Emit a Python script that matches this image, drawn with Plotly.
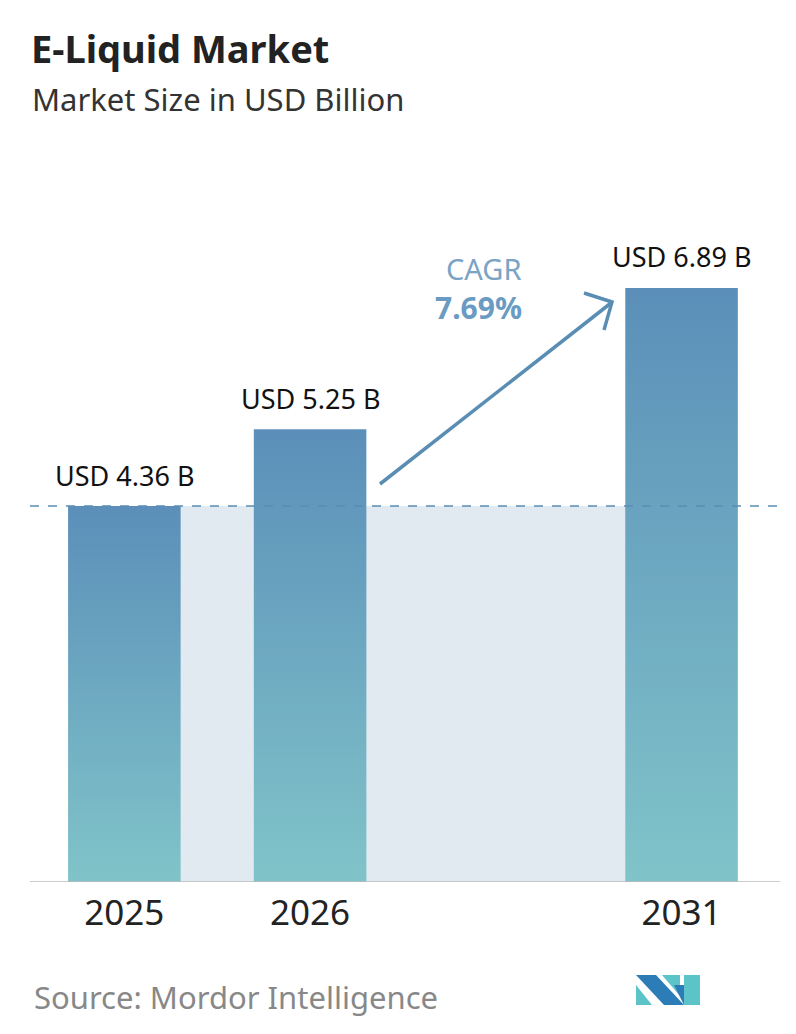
import plotly.graph_objects as go

years = ["2025", "2026", "2031"]
positions = [0, 1, 3]
values = [4.36, 5.25, 6.89]
labels = ["USD 4.36 B", "USD 5.25 B", "USD 6.89 B"]
cagr = "7.69%"

O = 8  # page offset
W, H = 796 - O, 1034 - O
L, R, T, B = 30 - O, 16, 200 - O, 152
ymax = 7.91
hw = 0.303
top_c, bot_c = "#5b8fb9", "#80c4c9"
FONT = "Noto Sans"

fig = go.Figure()
for p, v, lab in zip(positions, values, labels):
    fig.add_trace(go.Scatter(
        x=[p - hw, p + hw, p + hw, p - hw, p - hw], y=[0, 0, v, v, 0],
        fill="toself", mode="lines", line=dict(width=0),
        fillgradient=dict(type="vertical", colorscale=[[0, bot_c], [1, top_c]]),
        hoverinfo="skip", showlegend=False))
    fig.add_annotation(x=p, y=v, text=lab, showarrow=False, yshift=31,
                       font=dict(size=27, color="#111", family=FONT))

# reference pixel -> paper
def px(x): return (x - O - L) / (W - L - R)
def py(y): return (H - B - (y - O)) / (H - T - B)

shapes = [
    dict(type="rect", xref="x", yref="y", x0=positions[0], x1=positions[2], y0=0, y1=values[0],
         fillcolor="#e1e9f1", line_width=0, layer="below"),
    dict(type="line", xref="paper", yref="y", x0=0, x1=1, y0=values[0], y1=values[0],
         line=dict(color="#5a8db3", width=1.5, dash="dash")),
    dict(type="line", xref="paper", yref="y", x0=0, x1=1, y0=0, y1=0,
         line=dict(color="#bbbbbb", width=1.5)),
    dict(type="path", xref="paper", yref="paper",
         path=f"M {px(380)},{py(484)} L {px(611)},{py(303)}", line=dict(color="#5a8db3", width=3.5)),
    dict(type="path", xref="paper", yref="paper",
         path=f"M {px(584)},{py(293)} L {px(612)},{py(302)} L {px(604)},{py(330)}",
         line=dict(color="#5a8db3", width=3.5)),
]
logo = [
    ([(636, 985), (636, 1005), (652, 1005)], "#5cc4c8"),
    ([(636, 975), (656, 975), (684, 1005), (664, 1005)], "#2c7cb8"),
    ([(662, 975), (680, 975), (680, 996)], "#5cc4c8"),
    ([(684, 975), (700, 975), (700, 1005), (684, 1005)], "#5cc4c8"),
    ([(674, 985), (684, 985), (684, 1005)], "#2c7cb8"),
]
for pts, c in logo:
    path = "M " + " L ".join(f"{px(a)},{py(b)}" for a, b in pts) + " Z"
    shapes.append(dict(type="path", xref="paper", yref="paper", path=path, fillcolor=c, line_width=0))

def txt(x, y, t, size, color, anchor="left"):
    fig.add_annotation(xref="paper", yref="paper", x=px(x), y=py(y), xanchor=anchor, yanchor="middle",
                       text=t, showarrow=False, font=dict(size=size, color=color, family=FONT))

txt(484, 268, "CAGR", 29, "#7aa3c4", "center")
txt(478, 307, "<b>" + cagr + "</b>", 30, "#6a9bc3", "center")
txt(29, 48, "<b>E-Liquid Market</b>", 38, "#222")
txt(30, 99, "Market Size in USD Billion", 31, "#333")
txt(32, 997, "Source: Mordor Intelligence", 31, "#888")

fig.update_layout(
    width=W, height=H, margin=dict(l=L, r=R, t=T, b=B),
    plot_bgcolor="white", paper_bgcolor="white", shapes=shapes,
    xaxis=dict(range=[-0.508, 3.53], tickvals=positions, ticktext=years, showgrid=False, zeroline=False,
               tickfont=dict(size=35, color="#222", family=FONT), ticks="", ticklen=0,
               ticklabelstandoff=7),
    yaxis=dict(range=[0, ymax], visible=False),
)
fig.write_html("out.html")
